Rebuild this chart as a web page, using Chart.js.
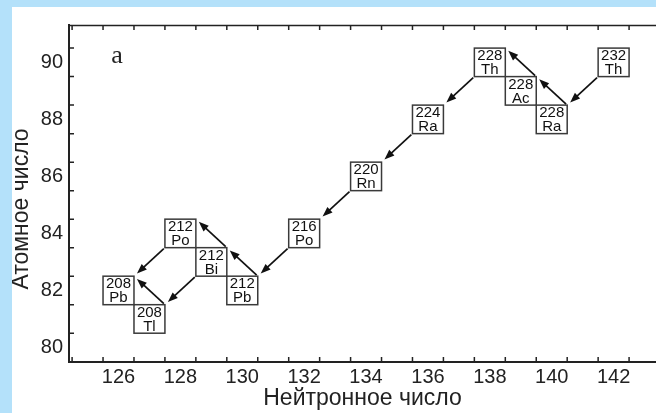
<!DOCTYPE html>
<html>
<head>
<meta charset="utf-8">
<script src="https://cdn.jsdelivr.net/npm/chart.js@4.4.0/dist/chart.umd.min.js"></script>
<style>
  html, body { margin: 0; padding: 0; }
  body { width: 656px; height: 413px; overflow: hidden; background: #b4e1fa; position: relative; }
  #wrap { position: absolute; left: 12px; top: 7px; width: 644px; height: 406px; background: #fff; }
</style>
</head>
<body>
<div id="wrap"><canvas id="chart" width="644" height="406"></canvas></div>
<script>
// nuclides of the thorium chain
var neutrons = [142, 140, 139, 138, 136, 134, 132, 130, 129, 128, 127, 126];
var protons = [90, 88, 89, 90, 88, 86, 84, 82, 83, 84, 81, 82];
var masses = [232, 228, 228, 228, 224, 220, 216, 212, 212, 212, 208, 208];
var symbols = ["Th", "Ra", "Ac", "Th", "Ra", "Rn", "Po", "Pb", "Bi", "Po", "Tl", "Pb"];

// decays: parent index -> daughter index, "a" = alpha, "b" = beta
var decayFrom = [0, 1, 2, 3, 4, 5, 6, 7, 8, 9, 8, 10];
var decayTo = [1, 2, 3, 4, 5, 6, 7, 8, 9, 11, 10, 11];
var decayType = ["a", "b", "b", "a", "a", "a", "a", "b", "b", "a", "a", "b"];

var xTickLabels = [126, 128, 130, 132, 134, 136, 138, 140, 142];
var yTickLabels = [80, 82, 84, 86, 88, 90];
var xTitle = "Нейтронное число";
var yTitle = "Атомное число";
var panelLabel = "a";

var ink = "#222";

var chainPlugin = {
  id: "chain",
  afterDatasetsDraw: function (chart) {
    var ctx = chart.ctx;
    var xs = chart.scales.x;
    var ys = chart.scales.y;
    var area = chart.chartArea;
    ctx.save();

    // top frame and inward tick marks at cell edges
    ctx.strokeStyle = ink;
    ctx.lineWidth = 1.5;
    ctx.beginPath();
    ctx.moveTo(area.left, area.top + 0.5);
    ctx.lineTo(area.right, area.top + 0.5);
    for (var v = Math.ceil(xs.min - 0.5) + 0.5; v <= xs.max; v++) {
      var px = xs.getPixelForValue(v);
      ctx.moveTo(px, area.bottom);
      ctx.lineTo(px, area.bottom - 5);
      ctx.moveTo(px, area.top);
      ctx.lineTo(px, area.top + 5);
    }
    for (var w = Math.ceil(ys.min - 0.5) + 0.5; w <= ys.max; w++) {
      var py = ys.getPixelForValue(w);
      ctx.moveTo(area.left, py);
      ctx.lineTo(area.left + 5, py);
    }
    ctx.stroke();

    // nuclide cells
    ctx.strokeStyle = "#3a3a3a";
    ctx.lineWidth = 1.5;
    ctx.fillStyle = "#111";
    ctx.font = "15px 'Liberation Sans'";
    ctx.textAlign = "center";
    ctx.textBaseline = "middle";
    for (var i = 0; i < neutrons.length; i++) {
      var x0 = xs.getPixelForValue(neutrons[i] - 0.5);
      var x1 = xs.getPixelForValue(neutrons[i] + 0.5);
      var y0 = ys.getPixelForValue(protons[i] + 0.5);
      var y1 = ys.getPixelForValue(protons[i] - 0.5);
      ctx.strokeRect(x0, y0, x1 - x0, y1 - y0);
      var cx = (x0 + x1) / 2;
      var cy = (y0 + y1) / 2;
      ctx.fillText(String(masses[i]), cx, cy - 6.5);
      ctx.fillText(symbols[i], cx, cy + 7.5);
    }

    // decay arrows
    ctx.strokeStyle = "#111";
    ctx.lineWidth = 1.7;
    for (var k = 0; k < decayFrom.length; k++) {
      var p = decayFrom[k];
      var d = decayTo[k];
      var s = decayType[k] === "a" ? -0.5 : 0.5;
      var sx = xs.getPixelForValue(neutrons[p] + s);
      var sy = ys.getPixelForValue(protons[p] + s);
      var tx = xs.getPixelForValue(neutrons[d] + 0.5);
      var ty = ys.getPixelForValue(protons[d] + 0.5);
      var len = Math.hypot(tx - sx, ty - sy);
      var ux = (tx - sx) / len;
      var uy = (ty - sy) / len;
      var ax = sx + ux * 1.5, ay = sy + uy * 1.5;
      var bx = tx - ux * 4, by = ty - uy * 4;
      var hl = 10, hw = 3.8;
      ctx.beginPath();
      ctx.moveTo(ax, ay);
      ctx.lineTo(bx - ux * hl * 0.6, by - uy * hl * 0.6);
      ctx.stroke();
      ctx.beginPath();
      ctx.moveTo(bx, by);
      ctx.lineTo(bx - ux * hl - uy * hw, by - uy * hl + ux * hw);
      ctx.lineTo(bx - ux * hl + uy * hw, by - uy * hl - ux * hw);
      ctx.closePath();
      ctx.fill();
    }

    // panel label
    ctx.font = "26px 'Liberation Serif'";
    ctx.fillStyle = ink;
    ctx.fillText(panelLabel, xs.getPixelForValue(125.95), ys.getPixelForValue(90.2));

    // y axis title
    ctx.font = "23px 'Liberation Sans'";
    ctx.translate(10, 202);
    ctx.rotate(-Math.PI / 2);
    ctx.fillText(yTitle, 0, 0);
    ctx.restore();
  }
};

var tickFont = { family: "Liberation Sans", size: 20 };

new Chart(document.getElementById("chart"), {
  type: "scatter",
  data: {
    datasets: [
      {
        data: neutrons.map(function (n, i) {
          return { x: n, y: protons[i] };
        }),
        pointRadius: 0,
        pointHoverRadius: 0,
      },
    ],
  },
  options: {
    responsive: false,
    animation: false,
    events: [],
    layout: { padding: { top: 1, left: 0, right: 0, bottom: 0 } },
    plugins: {
      legend: { display: false },
      tooltip: { enabled: false },
    },
    scales: {
      x: {
        type: "linear",
        bounds: "data",
        min: 124.4,
        max: 143.37,
        afterBuildTicks: function (s) {
          s.ticks = xTickLabels.map(function (v) {
            return { value: v };
          });
        },
        afterFit: function (s) {
          s.height = 51;
        },
        grid: { display: false, drawTicks: false },
        border: { display: true, color: ink, width: 2 },
        ticks: { padding: 3, color: ink, font: tickFont, maxRotation: 0, autoSkip: false },
        title: {
          display: true,
          text: xTitle,
          color: ink,
          font: { family: "Liberation Sans", size: 23, lineHeight: 1 },
          padding: { top: 0, bottom: 3 },
        },
      },
      y: {
        type: "linear",
        bounds: "data",
        min: 79.49,
        max: 91.31,
        afterBuildTicks: function (s) {
          s.ticks = yTickLabels.map(function (v) {
            return { value: v };
          });
        },
        afterFit: function (s) {
          s.width = 57;
        },
        grid: { display: false, drawTicks: false },
        border: { display: true, color: ink, width: 2 },
        ticks: { padding: 6, color: ink, font: tickFont, autoSkip: false },
        title: { display: false },
      },
    },
  },
  plugins: [chainPlugin],
});
</script>
</body>
</html>
